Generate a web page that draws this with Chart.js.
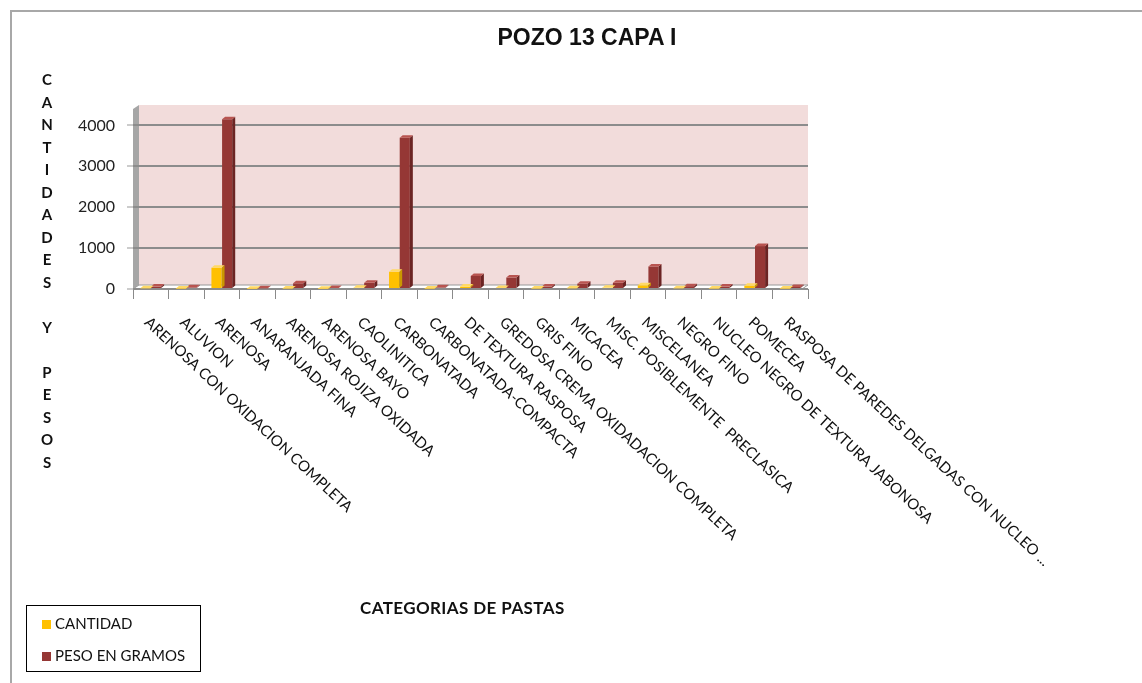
<!DOCTYPE html>
<html>
<head>
<meta charset="utf-8">
<title>POZO 13 CAPA I</title>
<script src="https://cdn.jsdelivr.net/npm/chart.js@4.4.0/dist/chart.umd.min.js"></script>
<style>
  html, body { margin: 0; padding: 0; background: #fff; }
  body { width: 1142px; height: 683px; position: relative; overflow: hidden; font-family: Lato, "Open Sans", sans-serif; color: #111; }
  #frame { position: absolute; left: 10px; top: 10px; width: 1140px; height: 680px; border-left: 2px solid #a8a8a8; border-top: 2px solid #a8a8a8; }
  #chart { position: absolute; left: 0; top: 0; }
  #title { position: absolute; top: 24px; left: 447px; width: 280px; text-align: center; font: bold 23px "Liberation Sans", Arial, sans-serif; }
  #yTitle { position: absolute; left: 36px; top: 68px; width: 22px; text-align: center; font: bold 15px Lato, sans-serif; line-height: 22.5px; }
  #xTitle { position: absolute; left: 360px; top: 597px; font: bold 17px Lato, sans-serif; letter-spacing: 0.4px; }
  #legend { position: absolute; left: 26px; top: 605px; width: 173px; height: 65px; border: 1px solid #000; font: 15px Lato, sans-serif; }
  #legend div { position: absolute; left: 15px; height: 16px; line-height: 16px; }
  #legend span { display: inline-block; width: 9px; height: 9px; margin-right: 4px; }
</style>
</head>
<body>
<div id="frame"></div>
<canvas id="chart" width="1142" height="683"></canvas>
<div id="title">POZO 13 CAPA I</div>
<div id="yTitle"></div>
<div id="xTitle">CATEGORIAS DE PASTAS</div>
<div id="legend"></div>
<script>
const categories = [
  "ARENOSA CON OXIDACION COMPLETA",
  "ALUVION",
  "ARENOSA",
  "ANARANJADA FINA",
  "ARENOSA ROJIZA OXIDADA",
  "ARENOSA BAYO",
  "CAOLINITICA",
  "CARBONATADA",
  "CARBONATADA-COMPACTA",
  "DE TEXTURA RASPOSA",
  "GREDOSA CREMA OXIDADACION COMPLETA",
  "GRIS FINO",
  "MICACEA",
  "MISC. POSIBLEMENTE  PRECLASICA",
  "MISCELANEA",
  "NEGRO FINO",
  "NUCLEO NEGRO DE TEXTURA JABONOSA",
  "POMECEA",
  "RASPOSA DE PAREDES DELGADAS CON NUCLEO ..."
];
const cantidad = [20, 10, 520, 5, 15, 8, 30, 420, 10, 60, 25, 15, 20, 30, 90, 20, 15, 80, 12];
const pesoGramos = [60, 40, 4150, 20, 140, 25, 150, 3700, 40, 320, 280, 60, 130, 150, 550, 70, 60, 1050, 50];
const yTicks = [0, 1000, 2000, 3000, 4000];
const seriesNames = ["CANTIDAD", "PESO EN GRAMOS"];
const seriesColors = ["#FFC000", "#953735"];
const sideColors = ["#C99700", "#6B2423"];
const topColors = ["#FFD966", "#B85450"];
const yAxisTitle = "CANTIDADES Y PESOS";

// stacked vertical axis title, one letter per line
document.getElementById("yTitle").innerHTML =
  yAxisTitle.split("").map(ch => ch === " " ? "&nbsp;" : ch).join("<br>");

// legend box
const legend = document.getElementById("legend");
seriesNames.forEach((name, i) => {
  const item = document.createElement("div");
  item.style.top = (i === 0 ? 9 : 41) + "px";
  item.innerHTML = `<span style="background:${seriesColors[i]}"></span>${name}`;
  legend.appendChild(item);
});

const DX = 6, DY = 4;

// pink back wall, grey side wall and the floor
const wallPlugin = {
  id: "walls",
  beforeDraw(chart) {
    const { ctx, chartArea: ca } = chart;
    ctx.save();
    ctx.fillStyle = "#F2DCDB";
    ctx.fillRect(ca.left + DX, ca.top, ca.right - ca.left - DX, ca.bottom - ca.top - DY);

    ctx.fillStyle = "#A6A6A6";
    ctx.beginPath();
    ctx.moveTo(ca.left, ca.top + DY);
    ctx.lineTo(ca.left + DX, ca.top);
    ctx.lineTo(ca.left + DX, ca.bottom - DY);
    ctx.lineTo(ca.left, ca.bottom);
    ctx.closePath();
    ctx.fill();

    ctx.fillStyle = "#FFFFFF";
    ctx.strokeStyle = "#999";
    ctx.lineWidth = 1;
    ctx.beginPath();
    ctx.moveTo(ca.left, ca.bottom);
    ctx.lineTo(ca.left + DX, ca.bottom - DY);
    ctx.lineTo(ca.right, ca.bottom - DY);
    ctx.lineTo(ca.right - DX, ca.bottom);
    ctx.closePath();
    ctx.fill();
    ctx.stroke();
    ctx.restore();
  }
};

// side and top faces on each bar
const bar3dPlugin = {
  id: "bar3d",
  afterDatasetDraw(chart, args) {
    const { ctx } = chart;
    const i = args.index;
    const d = 3, e = 2.5;
    ctx.save();
    args.meta.data.forEach(bar => {
      const { x, y, base, width } = bar.getProps(["x", "y", "base", "width"], true);
      const l = x - width / 2, r = x + width / 2;
      ctx.fillStyle = sideColors[i];
      ctx.beginPath();
      ctx.moveTo(r, y);
      ctx.lineTo(r + d, y - e);
      ctx.lineTo(r + d, base - e);
      ctx.lineTo(r, base);
      ctx.closePath();
      ctx.fill();
      ctx.fillStyle = topColors[i];
      ctx.beginPath();
      ctx.moveTo(l, y);
      ctx.lineTo(l + d, y - e);
      ctx.lineTo(r + d, y - e);
      ctx.lineTo(r, y);
      ctx.closePath();
      ctx.fill();
    });
    ctx.restore();
  }
};

// slanted category labels running down to the right
const slantLabels = {
  id: "slantLabels",
  afterDraw(chart) {
    const { ctx } = chart;
    const xs = chart.scales.x;
    ctx.save();
    ctx.font = "15px Lato, sans-serif";
    ctx.fillStyle = "#111";
    ctx.textAlign = "left";
    ctx.textBaseline = "middle";
    categories.forEach((label, i) => {
      const x = xs.getPixelForTick(i);
      ctx.save();
      ctx.translate(x - 4, xs.bottom + 21);
      ctx.rotate(43 * Math.PI / 180);
      ctx.fillText(label, 0, 0);
      ctx.restore();
    });
    ctx.restore();
  }
};

new Chart(document.getElementById("chart"), {
  type: "bar",
  data: {
    labels: categories,
    datasets: [
      { label: seriesNames[0], data: cantidad, backgroundColor: seriesColors[0], borderWidth: 0 },
      { label: seriesNames[1], data: pesoGramos, backgroundColor: seriesColors[1], borderWidth: 0 }
    ]
  },
  options: {
    responsive: false,
    animation: false,
    events: [],
    categoryPercentage: 0.6,
    barPercentage: 0.95,
    layout: { padding: { top: 105, right: 1142 - 808, bottom: 384, left: 0 } },
    plugins: {
      legend: { display: false },
      title: { display: false },
      tooltip: { enabled: false }
    },
    scales: {
      x: {
        ticks: { display: false },
        grid: { drawOnChartArea: false, drawTicks: true, tickLength: 10, color: "#8a8a8a", offset: true },
        border: { display: false },
        afterFit(scale) { scale.height = 10; }
      },
      y: {
        min: 0,
        max: 4500,
        afterBuildTicks(scale) { scale.ticks = yTicks.map(v => ({ value: v })); },
        ticks: {
          font: { family: "Lato", size: 16 },
          color: "#222",
          padding: 12,
          callback: v => String(v)
        },
        grid: { color: "#8c8c8c", lineWidth: 2, tickLength: 6, tickColor: "#999", tickWidth: 1 },
        border: { display: false },
        afterFit(scale) { scale.width = 133; }
      }
    }
  },
  plugins: [wallPlugin, bar3dPlugin, slantLabels]
});
</script>
</body>
</html>
